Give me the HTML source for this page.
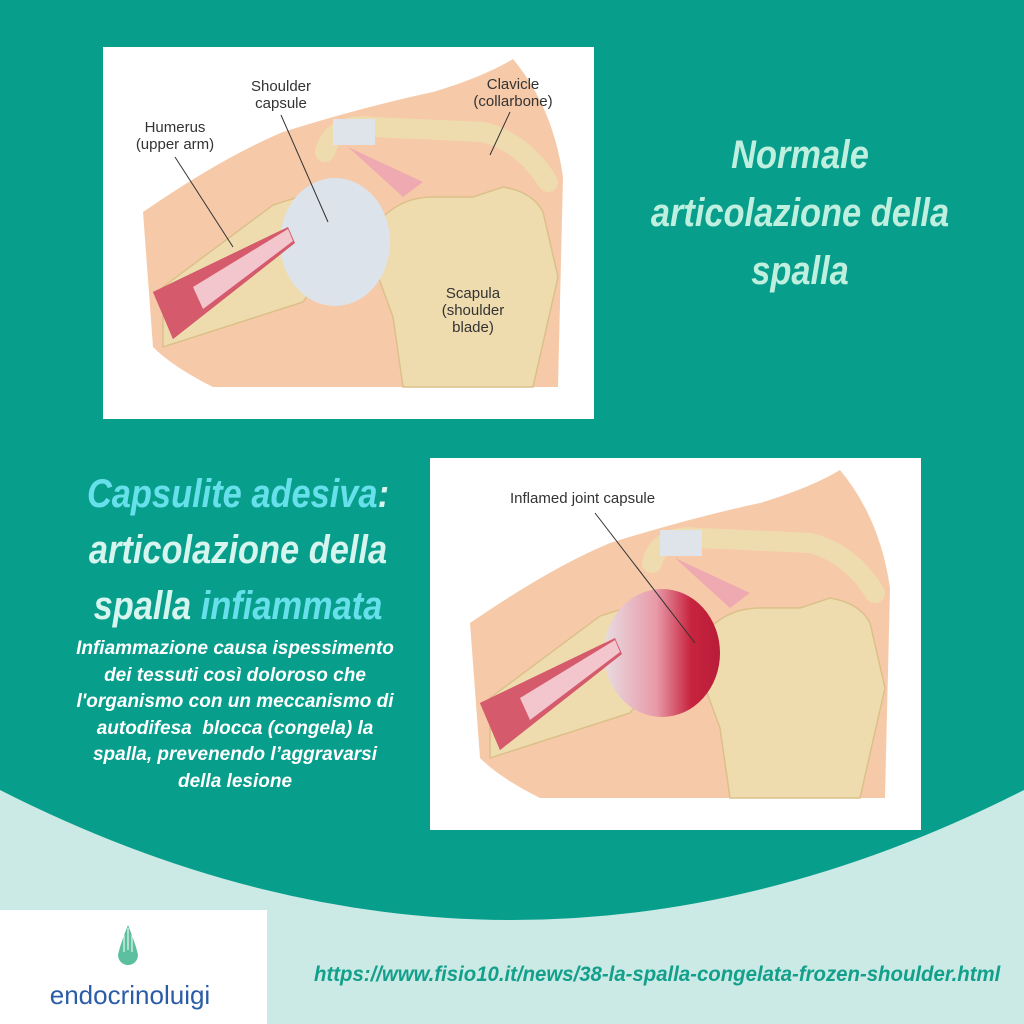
<!DOCTYPE html>
<html><head><meta charset="utf-8">
<style>
html,body{margin:0;padding:0}
body{width:1024px;height:1024px;position:relative;overflow:hidden;background:#cceae5;font-family:"Liberation Sans Narrow","Liberation Sans",sans-serif}
.t{position:absolute;font-style:italic;font-weight:bold;text-align:center;white-space:nowrap;transform-origin:50% 50%}
</style></head><body>
<svg width="1024" height="1024" style="position:absolute;left:0;top:0">
<defs>
<linearGradient id="inf" x1="0" x2="1" y1="0" y2="0">
<stop offset="0" stop-color="#e8dce2"/><stop offset="0.45" stop-color="#e89aa8"/><stop offset="0.75" stop-color="#c8243f"/><stop offset="1" stop-color="#b81c38"/>
</linearGradient>
<g id="ill">
<rect x="0" y="0" width="491" height="372" fill="#fff"/>
<path d="M40,165 Q120,110 180,85 Q260,60 330,45 Q380,30 410,12 Q450,60 460,130 L455,340 L110,340 Q70,320 50,300 Z" fill="#f6caa8"/>
<path d="M280,170 Q300,150 330,150 L370,150 L400,140 Q430,145 440,165 L455,230 L430,340 L300,340 L290,270 L268,210 Z" fill="#efdcae" stroke="#dcc08a" stroke-width="1.5"/>
<path d="M222,105 Q230,75 270,80 L380,85 Q420,95 445,135" fill="none" stroke="#efdcae" stroke-width="20" stroke-linecap="round"/>
<rect x="230" y="72" width="42" height="26" fill="#dfe4ea"/>
<path d="M245,100 L320,135 L300,150 Z" fill="#eeaab0"/>
<polygon points="60,240 170,158 195,150 240,200 200,255 60,300" fill="#efdcae" stroke="#dcc08a" stroke-width="1.5"/>
<polygon points="50,245 185,180 192,196 70,292" fill="#d45a6c"/>
<polygon points="90,240 185,182 190,194 100,262" fill="#f2c6cc"/>
</g>
</defs>
<path d="M0,0 H1024 V790 Q512,1050 0,790 Z" fill="#079e8c"/>
<g transform="translate(103,47)"><use href="#ill"/>
<ellipse cx="232" cy="195" rx="55" ry="64" fill="#dde3ea"/>
<polygon points="50,245 185,180 192,196 70,292" fill="#d45a6c"/>
<polygon points="90,240 185,182 190,194 100,262" fill="#f2c6cc"/>
<g font-family="Liberation Sans,sans-serif" font-size="15" fill="#333" text-anchor="middle">
<text x="72" y="85">Humerus</text><text x="72" y="102">(upper arm)</text>
<text x="178" y="44">Shoulder</text><text x="178" y="61">capsule</text>
<text x="410" y="42">Clavicle</text><text x="410" y="59">(collarbone)</text>
<text x="370" y="251">Scapula</text><text x="370" y="268">(shoulder</text><text x="370" y="285">blade)</text>
</g>
<g stroke="#333" stroke-width="1"><line x1="72" y1="110" x2="130" y2="200"/><line x1="178" y1="68" x2="225" y2="175"/><line x1="407" y1="65" x2="387" y2="108"/></g>
</g>
<g transform="translate(430,458)"><use href="#ill"/>
<ellipse cx="232" cy="195" rx="58" ry="64" fill="url(#inf)"/>
<polygon points="50,245 185,180 192,196 70,292" fill="#d45a6c"/>
<polygon points="90,240 185,182 190,194 100,262" fill="#f2c6cc"/>
<text x="80" y="45" font-family="Liberation Sans,sans-serif" font-size="15" fill="#333">Inflamed joint capsule</text>
<line x1="165" y1="55" x2="265" y2="185" stroke="#333" stroke-width="1"/>
</g>
<rect x="0" y="910" width="267" height="114" fill="#fff"/>
<path d="M128,925 Q120,945 118,955 A10,10 0 1 0 138,955 Q136,945 128,925 Z" fill="#5cc0a0"/>
<path d="M128,928 L128,950 M124,935 L124,952 M132,935 L132,952" stroke="#fff" stroke-width="1"/>
</svg>
<div class="t" style="left:600px;top:126px;width:400px;font-size:40px;line-height:58px;color:#bff0df;transform:scaleX(0.86)">Normale<br>articolazione della<br>spalla</div>
<div class="t" style="left:38px;top:466px;width:400px;font-size:40px;line-height:56px;color:#d6f5ee;transform:scaleX(0.86)"><span style="color:#66e0ea">Capsulite adesiva</span>:<br>articolazione della<br>spalla <span style="color:#66e0ea">infiammata</span></div>
<div class="t" style="left:35px;top:636px;width:400px;font-size:19px;line-height:26.5px;color:#fff">Infiammazione causa ispessimento<br>dei tessuti così doloroso che<br>l'organismo con un meccanismo di<br>autodifesa&nbsp; blocca (congela) la<br>spalla, prevenendo l’aggravarsi<br>della lesione</div>
<div class="t" style="left:314px;top:963px;width:690px;text-align:left;font-size:21px;color:#12a08c;transform:scaleX(0.97);transform-origin:0 50%">https://www.fisio10.it/news/38-la-spalla-congelata-frozen-shoulder.html</div>
<div style="position:absolute;left:0;top:980px;width:260px;text-align:center;font-family:'Liberation Sans',sans-serif;font-size:26px;color:#2a5ca8">endocrinoluigi</div>
</body></html>
